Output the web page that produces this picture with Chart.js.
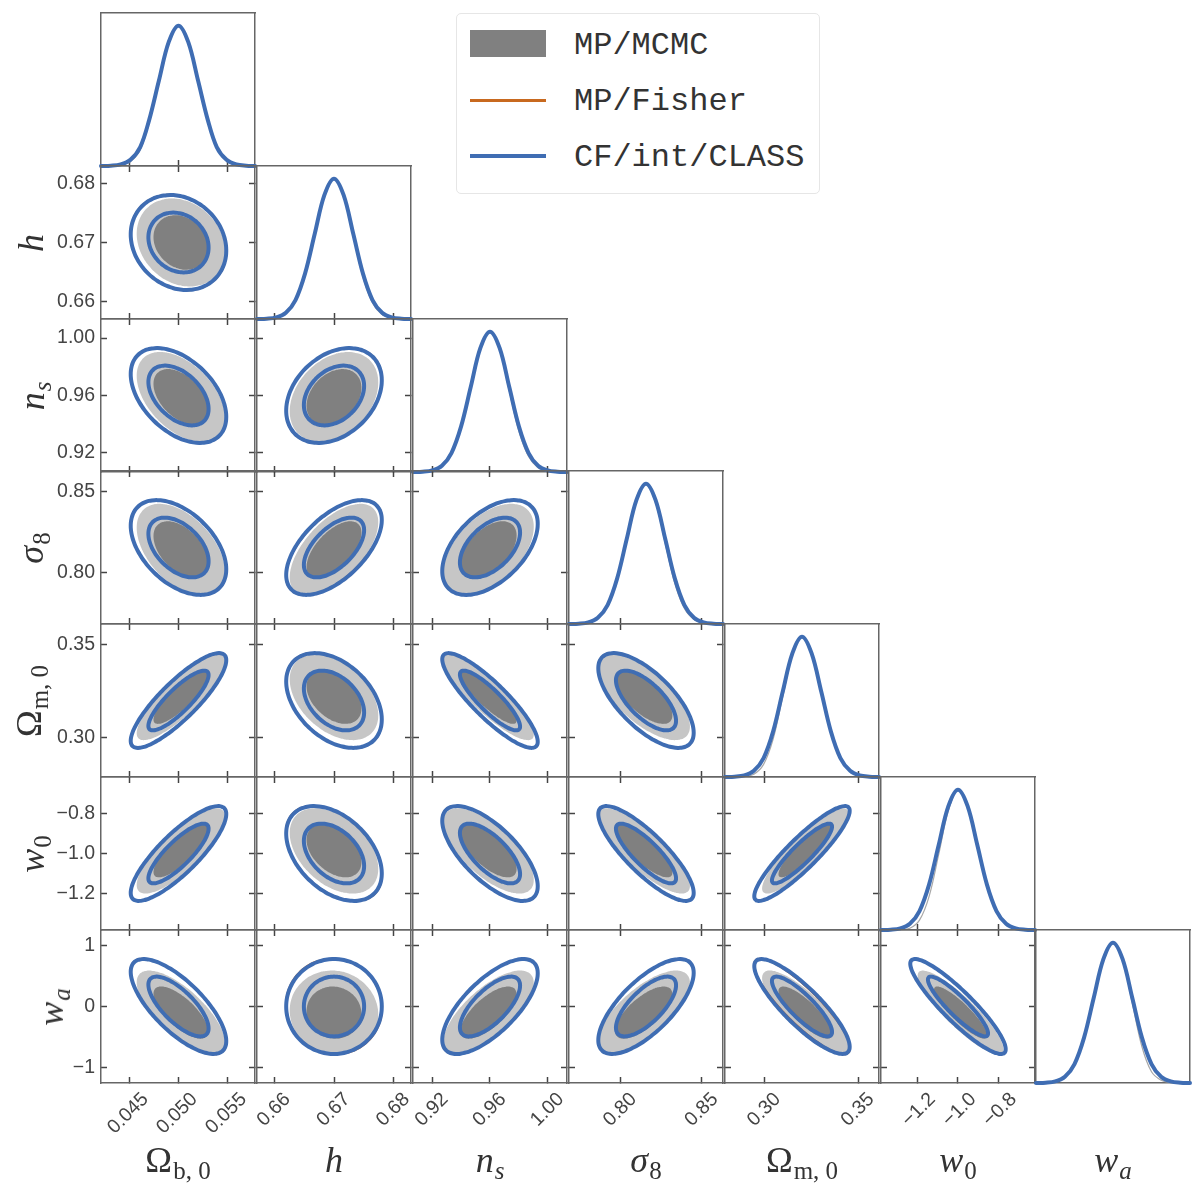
<!DOCTYPE html>
<html>
<head>
<meta charset="utf-8">
<title>Triangle plot</title>
<script src="https://cdn.jsdelivr.net/npm/chart.js@4"></script>
<style>
  html, body { margin: 0; padding: 0; background: #fff; }
  #plot { position: relative; width: 1200px; height: 1200px; overflow: hidden; }
  canvas { position: absolute; }
  .axis-label { position: absolute; font: 36px "Liberation Serif", serif; color: #333; white-space: nowrap; line-height: 40px; }
  .axis-label i { font-style: italic; }
  .axis-label span { font-size: 25px; position: relative; top: 7px; margin-left: 1px; }
  #legend { position: absolute; left: 456px; top: 13px; width: 362px; height: 179px; border: 1px solid #e6e6e6; border-radius: 5px; background: #fff; }
  #legend .swatch { position: absolute; left: 13px; width: 76px; }
  #legend .entry { position: absolute; left: 117px; font: 32px "Liberation Mono", monospace; color: #333; line-height: 36px; }
</style>
</head>
<body>
<div id="plot">
  <div id="legend">
    <div class="swatch" style="top:16px;height:27px;background:#808080"></div>
    <div class="swatch" style="top:85px;height:3px;background:#c8691f"></div>
    <div class="swatch" style="top:140px;height:4px;background:#3f6db3"></div>
    <div class="entry" style="top:14px">MP/MCMC</div>
    <div class="entry" style="top:70px">MP/Fisher</div>
    <div class="entry" style="top:126px">CF/int/CLASS</div>
  </div>
</div>
<script>
  // every value below
  var axisLabels = [
    'Ω<span>b, 0</span>', '<i>h</i>', '<i>n</i><span><i>s</i></span>', '<i>σ</i><span>8</span>',
    'Ω<span>m, 0</span>', '<i>w</i><span>0</span>', '<i>w</i><span><i>a</i></span>'
  ];

  var xTickValues = [[0.045, 0.050, 0.055], [0.66, 0.67, 0.68], [0.92, 0.96, 1.00], [0.80, 0.85], [0.30, 0.35], [-1.2, -1.0, -0.8], [-0.8, 0.0, 0.8]];
  var xTickLabels = [['0.045', '0.050', '0.055'], ['0.66', '0.67', '0.68'], ['0.92', '0.96', '1.00'], ['0.80', '0.85'], ['0.30', '0.35'], ['−1.2', '−1.0', '−0.8'], ['−0.8', '0.0', '0.8']];
  var yTickValues = [[], [0.66, 0.67, 0.68], [0.92, 0.96, 1.00], [0.80, 0.85], [0.30, 0.35], [-1.2, -1.0, -0.8], [-1, 0, 1]];
  var yTickLabels = [[], ['0.66', '0.67', '0.68'], ['0.92', '0.96', '1.00'], ['0.80', '0.85'], ['0.30', '0.35'], ['−1.2', '−1.0', '−0.8'], ['−1', '0', '1']];

  // 1D posterior curves: parameter grid of each column and relative heights
  var gridOmegaB = [0.0421, 0.0431, 0.0441, 0.0451, 0.0461, 0.0470, 0.0480, 0.0490, 0.0500, 0.0510, 0.0520, 0.0530, 0.0539, 0.0549, 0.0559, 0.0569, 0.0578];
  var gridH = [0.65708, 0.65869, 0.66031, 0.66192, 0.66354, 0.66515, 0.66677, 0.66838, 0.67, 0.67162, 0.67323, 0.67485, 0.67646, 0.67808, 0.67969, 0.68131, 0.68292];
  var gridNs = [0.9067, 0.9133, 0.9200, 0.9267, 0.9333, 0.9400, 0.9467, 0.9533, 0.96, 0.9667, 0.9733, 0.98, 0.9867, 0.9933, 1.0, 1.0067, 1.0133];
  var gridSigma8 = [0.7683, 0.7742, 0.7801, 0.7860, 0.7920, 0.7979, 0.8038, 0.8097, 0.8156, 0.8215, 0.8274, 0.8333, 0.8392, 0.8451, 0.8510, 0.8570, 0.8629];
  var gridOmegaM = [0.2789, 0.2840, 0.2892, 0.2943, 0.2995, 0.3046, 0.3097, 0.3149, 0.32, 0.3251, 0.3303, 0.3354, 0.3405, 0.3457, 0.3508, 0.3560, 0.3611];
  var gridW0 = [-1.38, -1.3325, -1.285, -1.2375, -1.19, -1.1425, -1.095, -1.0475, -1, -0.9525, -0.905, -0.8575, -0.81, -0.7625, -0.715, -0.6675, -0.62];
  var gridWa = [-1.256, -1.099, -0.942, -0.785, -0.628, -0.471, -0.314, -0.157, 0, 0.157, 0.314, 0.471, 0.628, 0.785, 0.942, 1.099, 1.256];
  var grids = [gridOmegaB, gridH, gridNs, gridSigma8, gridOmegaM, gridW0, gridWa];

  var curveClass = [0.0003, 0.002, 0.011, 0.044, 0.135, 0.325, 0.607, 0.882, 1, 0.882, 0.607, 0.325, 0.135, 0.044, 0.011, 0.002, 0.0003];
  var curveFisher = [0.0003, 0.002, 0.012, 0.046, 0.138, 0.328, 0.61, 0.884, 1, 0.88, 0.604, 0.322, 0.132, 0.043, 0.011, 0.002, 0.0003];
  var curvesMcmc = [
    [0, 0, 0.006, 0.03, 0.115, 0.305, 0.6, 0.885, 1, 0.885, 0.605, 0.325, 0.135, 0.044, 0.011, 0.002, 0],
    [0, 0.002, 0.011, 0.044, 0.135, 0.325, 0.607, 0.88, 1, 0.875, 0.59, 0.3, 0.115, 0.032, 0.006, 0, 0],
    [0, 0.002, 0.011, 0.044, 0.135, 0.325, 0.61, 0.885, 1, 0.87, 0.58, 0.29, 0.11, 0.03, 0.006, 0.001, 0],
    [0, 0.002, 0.012, 0.045, 0.14, 0.33, 0.61, 0.885, 1, 0.865, 0.575, 0.29, 0.11, 0.032, 0.007, 0.001, 0],
    [0, 0, 0.003, 0.02, 0.09, 0.27, 0.57, 0.87, 1, 0.885, 0.61, 0.33, 0.135, 0.044, 0.011, 0.002, 0],
    [0, 0, 0.001, 0.012, 0.07, 0.24, 0.54, 0.85, 1, 0.89, 0.615, 0.33, 0.135, 0.044, 0.011, 0.002, 0],
    [0, 0.002, 0.011, 0.044, 0.135, 0.325, 0.61, 0.885, 1, 0.875, 0.57, 0.26, 0.08, 0.02, 0.004, 0, 0]
  ];

  // 2D contours: centre and half extent of the outer contour per parameter, tilt per panel.
  // The outline of each contour is derived from these read values, its vertices are not typed in.
  var centreClass = [0.05, 0.67, 0.96, 0.8156, 0.32, -1, 0];
  var halfClass = [0.00487, 0.00802, 0.03305, 0.0293, 0.02546, 0.2355, 0.779];
  var centreFisher = [0.05, 0.67, 0.96, 0.8156, 0.32, -1, 0];
  var halfFisher = [0.00489, 0.00806, 0.0332, 0.0294, 0.02558, 0.2365, 0.783];
  var centreMcmc = [0.05024, 0.67, 0.959, 0.8142, 0.3217, -0.987, -0.10];
  var halfMcmc = [0.0045, 0.00743, 0.0313, 0.0284, 0.0230, 0.212, 0.69];
  var innerClass = 0.63;
  var innerMcmc = 0.62;

  var tiltClass = [
    [],
    [-0.17],
    [-0.45, 0.32],
    [-0.46, 0.58, 0.5],
    [0.85, -0.4, -0.87, -0.68],
    [0.83, -0.42, -0.69, -0.83, 0.9],
    [-0.73, 0, 0.7, 0.71, -0.85, -0.9]
  ];
  var tiltFisher = [
    [],
    [-0.18],
    [-0.45, 0.33],
    [-0.46, 0.6, 0.5],
    [0.85, -0.41, -0.87, -0.69],
    [0.83, -0.44, -0.7, -0.83, 0.9],
    [-0.74, -0.03, 0.71, 0.71, -0.87, -0.9]
  ];
  var tiltMcmc = [
    [],
    [-0.2],
    [-0.47, 0.32],
    [-0.48, 0.6, 0.5],
    [0.84, -0.42, -0.87, -0.68],
    [0.8, -0.42, -0.68, -0.82, 0.88],
    [-0.72, -0.05, 0.7, 0.7, -0.82, -0.88]
  ];

  var colours = { cf: '#3f6db3', fisher: '#c8691f', mcmcLine: '#a8a8a8', dark: '#808080', light: '#c6c6c6', frame: '#666666', tick: '#444444', text: '#444444' };

  var PANEL_W = 154;
  var PANEL_H = 153;
  var PAD = 4;
  var LEFT_ROOM = 100;
  var BOTTOM_ROOM = 60;
  var TICK = 6;
  var labelShift = [16, 13, 13, 13, 13, 15, 15];
  var sideLabelX = [0, 31, 34, 33, 31, 34, 53];

  function panelLeft(col) {
    return Math.round(101 + 155.9 * col);
  }

  function panelTop(row) {
    return Math.round(13 + 152.8 * row);
  }

  function contour(cx, hx, cy, hy, tilt, scale) {
    var pts = [];
    var steps = 90;
    var side = Math.sqrt(1 - tilt * tilt);
    for (var i = 0; i <= steps; i++) {
      var t = 2 * Math.PI * i / steps;
      pts.push({
        x: cx + scale * hx * Math.cos(t),
        y: cy + scale * hy * (tilt * Math.cos(t) + side * Math.sin(t))
      });
    }
    return pts;
  }

  // tension also keeps chart.js off its fast path, which collapses points sharing a pixel column
  function line(pts, colour, width) {
    return { data: pts, showLine: true, pointRadius: 0, borderColor: colour, borderWidth: width, borderJoinStyle: 'round', borderCapStyle: 'round', tension: 0.2, fill: false, clip: false };
  }

  function area(pts, colour) {
    return { data: pts, showLine: true, pointRadius: 0, borderWidth: 0, borderColor: colour, backgroundColor: colour, tension: 0.2, fill: 'shape' };
  }

  function curve(col, heights) {
    return grids[col].map(function(x, i) {
      return { x: x, y: heights[i] };
    });
  }

  function panelDatasets(row, col) {
    if (row === col) {
      var sets = [
        line(curve(col, curveClass), colours.cf, 4),
        line(curve(col, curveFisher), colours.fisher, 1.6),
        line(curve(col, curvesMcmc[col]), colours.mcmcLine, 1.2)
      ];
      sets.forEach(function(s) { s.tension = 0.35; });
      return sets;
    }
    var cf = [centreClass[col], halfClass[col], centreClass[row], halfClass[row], tiltClass[row][col]];
    var fi = [centreFisher[col], halfFisher[col], centreFisher[row], halfFisher[row], tiltFisher[row][col]];
    var mc = [centreMcmc[col], halfMcmc[col], centreMcmc[row], halfMcmc[row], tiltMcmc[row][col]];
    // first dataset ends up on top
    return [
      line(contour.apply(null, cf.concat(innerClass)), colours.cf, 4),
      line(contour.apply(null, cf.concat(1)), colours.cf, 4),
      line(contour.apply(null, fi.concat(innerClass)), colours.fisher, 2),
      line(contour.apply(null, fi.concat(1)), colours.fisher, 2),
      area(contour.apply(null, mc.concat(innerMcmc)), colours.dark),
      area(contour.apply(null, mc.concat(1)), colours.light)
    ];
  }

  function scaleOptions(position, range, values, labels, room, padding, shift) {
    var isX = position === 'bottom' || position === 'top';
    var hasTicks = values.length > 0;
    return {
      type: 'linear',
      position: position,
      min: range[0],
      max: range[1],
      border: { display: true, color: colours.frame, width: 1.5 },
      grid: {
        drawOnChartArea: false,
        drawTicks: hasTicks,
        tickLength: -TICK,
        tickColor: colours.tick,
        tickWidth: 1.5
      },
      ticks: {
        display: !!labels,
        autoSkip: false,
        padding: padding,
        minRotation: isX ? 45 : 0,
        maxRotation: isX ? 45 : 0,
        labelOffset: shift || 0,
        color: colours.text,
        font: { family: '"Liberation Sans", Arial, sans-serif', size: 19.5 },
        callback: function(v) {
          return labels ? labels[values.indexOf(v)] : '';
        }
      },
      afterBuildTicks: function(scale) {
        if (hasTicks) {
          scale.ticks = values.map(function(v) { return { value: v }; });
        }
      },
      afterFit: function(scale) {
        if (isX) {
          scale.height = room;
        } else {
          scale.width = room;
        }
        scale.paddingLeft = scale.paddingRight = scale.paddingTop = scale.paddingBottom = 0;
      }
    };
  }

  function drawPanel(row, col) {
    var leftRoom = col === 0 ? LEFT_ROOM : 0;
    var bottomRoom = row === 6 ? BOTTOM_ROOM : 0;
    var canvas = document.createElement('canvas');
    canvas.width = PANEL_W + 2 * PAD + leftRoom;
    canvas.height = PANEL_H + 2 * PAD + bottomRoom;
    canvas.style.left = (panelLeft(col) - leftRoom - PAD) + 'px';
    canvas.style.top = (panelTop(row) - PAD) + 'px';
    document.getElementById('plot').appendChild(canvas);

    var xRange = [grids[col][0], grids[col][16]];
    var onDiagonal = row === col;
    var yRange = onDiagonal ? [0, 1.09] : [grids[row][0], grids[row][16]];
    var xBottom = onDiagonal && col === 6 ? [] : xTickValues[col];
    var xTop = onDiagonal ? [] : xTickValues[col];
    var ySide = onDiagonal ? [] : yTickValues[row];

    new Chart(canvas, {
      type: 'scatter',
      data: { datasets: panelDatasets(row, col) },
      options: {
        responsive: false,
        animation: false,
        events: [],
        layout: { padding: PAD },
        plugins: { legend: { display: false }, tooltip: { enabled: false } },
        scales: {
          x: scaleOptions('bottom', xRange, xBottom, row === 6 ? xTickLabels[col] : null, bottomRoom, 11, labelShift[col]),
          xTop: scaleOptions('top', xRange, xTop, null, 0, 0),
          y: scaleOptions('left', yRange, ySide, col === 0 && !onDiagonal ? yTickLabels[row] : null, leftRoom, 12),
          yRight: scaleOptions('right', yRange, ySide, null, 0, 0)
        }
      }
    });
  }

  function addLabels() {
    var plot = document.getElementById('plot');
    axisLabels.forEach(function(html, i) {
      var below = document.createElement('div');
      below.className = 'axis-label';
      below.innerHTML = html;
      below.style.left = (panelLeft(i) + PANEL_W / 2) + 'px';
      below.style.top = '1140px';
      below.style.transform = 'translateX(-50%)';
      plot.appendChild(below);
      if (i > 0) {
        var beside = document.createElement('div');
        beside.className = 'axis-label';
        beside.innerHTML = html;
        beside.style.left = sideLabelX[i] + 'px';
        beside.style.top = (panelTop(i) + PANEL_H / 2) + 'px';
        beside.style.transform = 'translate(-50%, -50%) rotate(-90deg)';
        plot.appendChild(beside);
      }
    });
  }

  for (var row = 0; row < 7; row++) {
    for (var col = 0; col <= row; col++) {
      drawPanel(row, col);
    }
  }
  addLabels();
</script>
</body>
</html>
